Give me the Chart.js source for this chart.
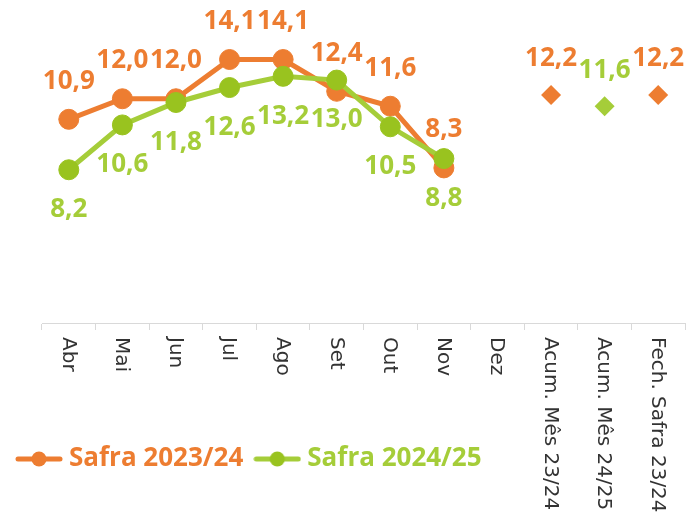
<!DOCTYPE html>
<html>
<head>
<meta charset="utf-8">
<script src="https://cdn.jsdelivr.net/npm/chart.js@4.4.1/dist/chart.umd.min.js"></script>
<style>
  html, body { margin: 0; padding: 0; background: #fff; overflow: hidden; }
  #wrap { width: 689px; height: 513px; }
</style>
</head>
<body>
<div id="wrap"><canvas id="myChart"></canvas></div>
<script>
const categories = ['Abr', 'Mai', 'Jun', 'Jul', 'Ago', 'Set', 'Out', 'Nov', 'Dez',
    'Acum. Mês 23/24', 'Acum. Mês 24/25', 'Fech. Safra 23/24'];
const safra2324 = [10.9, 12.0, 12.0, 14.1, 14.1, 12.4, 11.6, 8.3, null, null, null, null];
const safra2425 = [8.2, 10.6, 11.8, 12.6, 13.2, 13.0, 10.5, 8.8, null, null, null, null];
const resumo2324 = [null, null, null, null, null, null, null, null, null, 12.2, null, 12.2];
const resumo2425 = [null, null, null, null, null, null, null, null, null, null, 11.6, null];

const orange = '#ED7D31';
const green = '#A5CD39';
const greenDot = '#99C31F';

// little line + dot used as legend symbol
function legendIcon(lineColor, dotColor) {
    const c = document.createElement('canvas');
    c.width = 48;
    c.height = 20;
    const g = c.getContext('2d');
    g.strokeStyle = lineColor;
    g.lineWidth = 5;
    g.lineCap = 'round';
    g.beginPath();
    g.moveTo(3, 10);
    g.lineTo(45, 10);
    g.stroke();
    g.fillStyle = dotColor;
    g.beginPath();
    g.arc(24, 10, 7.5, 0, Math.PI * 2);
    g.fill();
    return c;
}

// values above / below the points
const valueLabels = {
    id: 'valueLabels',
    afterDatasetsDraw(chart) {
        const ctx = chart.ctx;
        chart.data.datasets.forEach((ds, i) => {
            const meta = chart.getDatasetMeta(i);
            meta.data.forEach((pt, j) => {
                const v = ds.data[j];
                if (v === null || v === undefined) return;
                ctx.save();
                ctx.font = 'bold 26px "Open Sans"';
                ctx.fillStyle = ds.labelColor;
                ctx.textAlign = 'center';
                ctx.textBaseline = 'middle';
                ctx.fillText(v.toFixed(1).replace('.', ','), pt.x, pt.y + ds.labelShift);
                ctx.restore();
            });
        });
    }
};

// category labels turned 90 deg, reading downwards
const downLabels = {
    id: 'downLabels',
    afterDraw(chart) {
        const ctx = chart.ctx;
        const xs = chart.scales.x;
        categories.forEach((lab, i) => {
            const x = xs.getPixelForValue(i);
            ctx.save();
            ctx.translate(x, xs.top + 14);
            ctx.rotate(Math.PI / 2);
            ctx.font = '20px "DejaVu Sans"';
            ctx.fillStyle = '#333333';
            ctx.textAlign = 'left';
            ctx.textBaseline = 'middle';
            ctx.fillText(lab, 0, 1);
            ctx.restore();
        });
    }
};

const ctx = document.getElementById('myChart');
const myChart = new Chart(ctx, {
    type: 'line',
    data: {
        labels: categories,
        datasets: [{
            label: 'Safra 2023/24',
            data: safra2324,
            borderColor: orange,
            borderWidth: 5,
            pointRadius: 10,
            pointBackgroundColor: orange,
            pointBorderColor: orange,
            pointBorderWidth: 1,
            tension: 0,
            order: 2,
            labelColor: orange,
            labelShift: -38
        }, {
            label: 'Safra 2024/25',
            data: safra2425,
            borderColor: green,
            borderWidth: 5,
            pointRadius: 10,
            pointBackgroundColor: greenDot,
            pointBorderColor: greenDot,
            pointBorderWidth: 1,
            tension: 0,
            order: 1,
            labelColor: green,
            labelShift: 40
        }, {
            label: 'resumo 23/24',
            data: resumo2324,
            showLine: false,
            pointStyle: 'rectRot',
            pointRadius: 10,
            pointBackgroundColor: orange,
            pointBorderColor: orange,
            pointBorderWidth: 0,
            order: 0,
            labelColor: orange,
            labelShift: -36
        }, {
            label: 'resumo 24/25',
            data: resumo2425,
            showLine: false,
            pointStyle: 'rectRot',
            pointRadius: 10,
            pointBackgroundColor: green,
            pointBorderColor: green,
            pointBorderWidth: 0,
            order: 0,
            labelColor: green,
            labelShift: -36
        }]
    },
    options: {
        responsive: true,
        maintainAspectRatio: false,
        animation: false,
        layout: {
            autoPadding: false,
            padding: { left: 5, right: 4, top: 24, bottom: 31 }
        },
        scales: {
            x: {
                offset: true,
                grid: {
                    offset: true,
                    drawOnChartArea: false,
                    drawTicks: true,
                    tickLength: 7,
                    color: '#d9d9d9'
                },
                border: { display: true, color: '#d9d9d9', width: 1 },
                ticks: { display: false },
                afterFit(scale) { scale.height = 106; }
            },
            y: {
                min: 0,
                max: 16,
                grid: { display: false },
                border: { display: false },
                ticks: { display: false },
                afterFit(scale) { scale.width = 37; }
            }
        },
        plugins: {
            tooltip: { enabled: false },
            legend: {
                position: 'bottom',
                align: 'start',
                labels: {
                    usePointStyle: true,
                    pointStyleWidth: 34,
                    padding: 17,
                    font: { family: '"Open Sans"', size: 26, weight: 'bold' },
                    generateLabels() {
                        return [
                            { text: 'Safra 2023/24', fontColor: orange, pointStyle: legendIcon(orange, orange),
                              fillStyle: orange, strokeStyle: orange, lineWidth: 0, hidden: false, datasetIndex: 0 },
                            { text: 'Safra 2024/25', fontColor: green, pointStyle: legendIcon(green, greenDot),
                              fillStyle: green, strokeStyle: green, lineWidth: 0, hidden: false, datasetIndex: 1 }
                        ];
                    }
                }
            }
        }
    },
    plugins: [valueLabels, downLabels]
});
</script>
</body>
</html>
